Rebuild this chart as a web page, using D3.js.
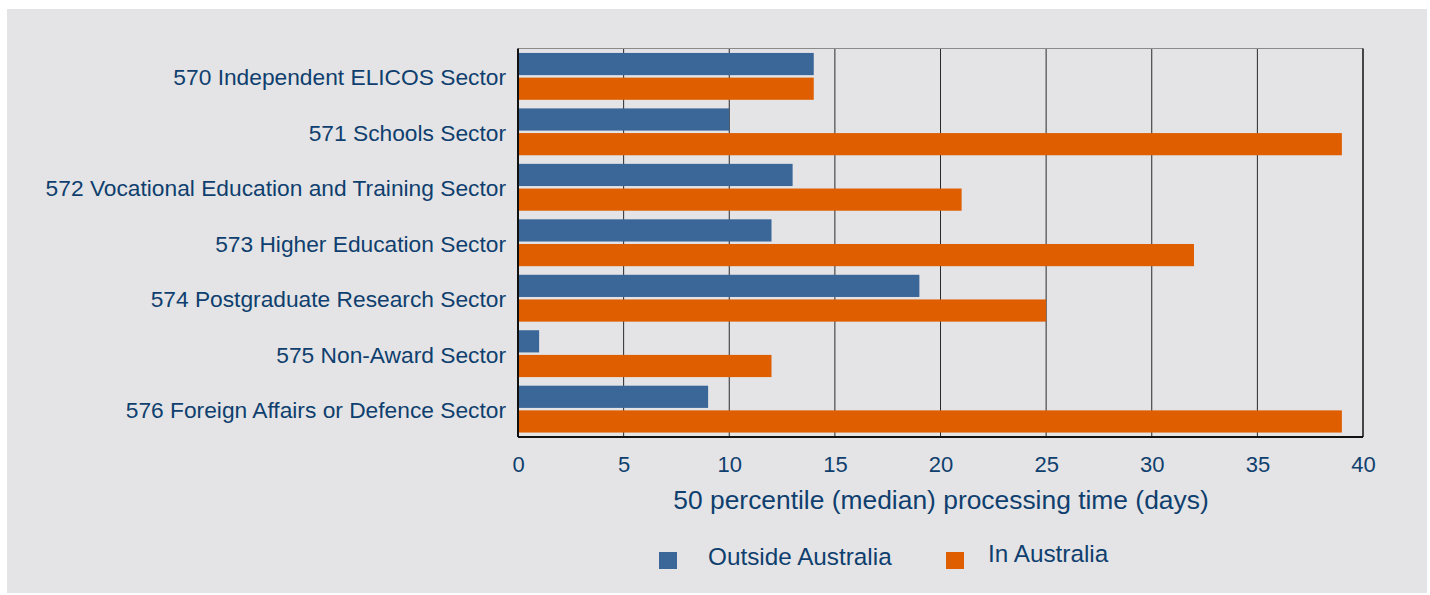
<!DOCTYPE html>
<html>
<head>
<meta charset="utf-8">
<script src="https://cdn.jsdelivr.net/npm/d3@7"></script>
<style>
  body { margin: 0; background: #ffffff; }
  text { font-family: "Liberation Sans", Arial, sans-serif; fill: #0f3f6e; }
</style>
</head>
<body>
<script>
// Datos del gráfico
const sectores = [
  "570 Independent ELICOS Sector",
  "571 Schools Sector",
  "572 Vocational Education and Training Sector",
  "573 Higher Education Sector",
  "574 Postgraduate Research Sector",
  "575 Non-Award Sector",
  "576 Foreign Affairs or Defence Sector"
];
const fueraAustralia = [14, 10, 13, 12, 19, 1, 9];
const enAustralia = [14, 39, 21, 32, 25, 12, 39];
const series = ["Outside Australia", "In Australia"];
const colores = ["#3b6698", "#df5f00"];
const ticksX = [0, 5, 10, 15, 20, 25, 30, 35, 40];

const width = 1430, height = 595;
const margin = {top: 48.5, right: 67, bottom: 158, left: 518};
const innerW = width - margin.left - margin.right;
const innerH = height - margin.top - margin.bottom;

const svg = d3.select("body").append("svg")
  .attr("width", width)
  .attr("height", height);

// Fondo gris
svg.append("rect")
  .attr("x", 7).attr("y", 9)
  .attr("width", 1420).attr("height", 584)
  .attr("fill", "#e4e4e6");

const g = svg.append("g")
  .attr("transform", "translate(" + margin.left + "," + margin.top + ")");

const x = d3.scaleLinear().domain([0, 40]).range([0, innerW]);
const y = d3.scaleBand().domain(sectores).range([0, innerH]).paddingInner(0.155).paddingOuter(0.08);
const ySub = d3.scaleBand().domain(series).range([0, y.bandwidth()]).paddingInner(0.1);

// Líneas de la cuadrícula
g.selectAll(".grid")
  .data(ticksX.slice(1, -1))
  .enter().append("line")
  .attr("x1", d => x(d)).attr("x2", d => x(d))
  .attr("y1", 0).attr("y2", innerH)
  .attr("stroke", "#2a2a2a").attr("stroke-width", 1);

// Borde superior
g.append("line")
  .attr("x1", 0).attr("x2", innerW).attr("y1", 0).attr("y2", 0)
  .attr("stroke", "#8a8a8a").attr("stroke-width", 1);

// Barras
const filas = sectores.map((s, i) => ({sector: s, valores: [fueraAustralia[i], enAustralia[i]]}));
const grupo = g.selectAll(".fila")
  .data(filas)
  .enter().append("g")
  .attr("transform", d => "translate(0," + y(d.sector) + ")");

grupo.selectAll("rect")
  .data(d => d.valores.map((v, j) => ({serie: series[j], valor: v, color: colores[j]})))
  .enter().append("rect")
  .attr("x", x(0))
  .attr("y", d => ySub(d.serie))
  .attr("width", d => x(d.valor) - x(0))
  .attr("height", ySub.bandwidth())
  .attr("fill", d => d.color);

// Bordes izquierdo, derecho e inferior
g.append("line")
  .attr("x1", innerW).attr("x2", innerW).attr("y1", 0).attr("y2", innerH)
  .attr("stroke", "#111").attr("stroke-width", 1.5);
g.append("line")
  .attr("x1", 0).attr("x2", 0).attr("y1", 0).attr("y2", innerH)
  .attr("stroke", "#111").attr("stroke-width", 2);
g.append("line")
  .attr("x1", 0).attr("x2", innerW).attr("y1", innerH).attr("y2", innerH)
  .attr("stroke", "#111").attr("stroke-width", 2);

// Eje x
const ejeX = g.append("g")
  .attr("transform", "translate(0," + innerH + ")")
  .call(d3.axisBottom(x).tickValues(ticksX).tickSize(0).tickPadding(0));
ejeX.select(".domain").remove();
ejeX.selectAll("text")
  .attr("y", 35)
  .attr("dy", 0)
  .style("font-size", "22px")
  .style("font-family", "Liberation Sans, Arial, sans-serif")
  .attr("fill", "#0f3f6e");

// Eje y (etiquetas)
const ejeY = g.append("g")
  .call(d3.axisLeft(y).tickSize(0).tickPadding(12));
ejeY.select(".domain").remove();
ejeY.selectAll("text")
  .attr("dy", "0.4em")
  .style("font-size", "22.75px")
  .style("font-family", "Liberation Sans, Arial, sans-serif")
  .attr("fill", "#0f3f6e");

// Título del eje x
svg.append("text")
  .attr("x", (673 + 1209) / 2)
  .attr("y", 509)
  .attr("text-anchor", "middle")
  .style("font-size", "26.4px")
  .text("50 percentile (median) processing time (days)");

// Leyenda
const leyenda = [
  {nombre: series[0], color: colores[0], cx: 659, tx: 708, ty: 565},
  {nombre: series[1], color: colores[1], cx: 946, tx: 988, ty: 562}
];
const item = svg.selectAll(".leyenda")
  .data(leyenda)
  .enter().append("g");
item.append("rect")
  .attr("x", d => d.cx).attr("y", 552)
  .attr("width", 18).attr("height", 17)
  .attr("fill", d => d.color);
item.append("text")
  .attr("x", d => d.tx).attr("y", d => d.ty)
  .style("font-size", "24.3px")
  .text(d => d.nombre);
</script>
</body>
</html>
